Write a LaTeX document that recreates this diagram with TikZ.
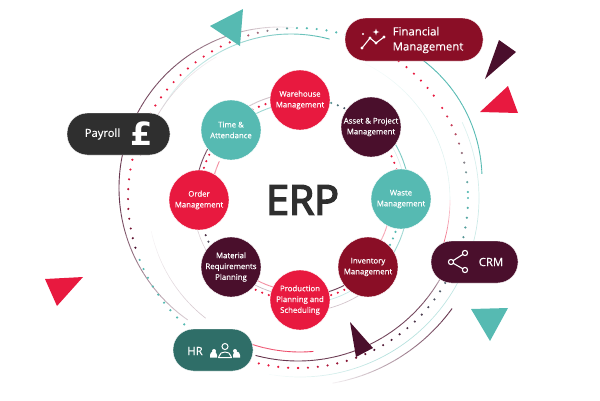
\documentclass[tikz,border=0pt]{standalone}
\usepackage{fontspec}
\setmainfont[FakeBold=0.35]{Open Sans}
\newfontfamily\erpfont[FakeBold=4]{Open Sans}
\newfontfamily\poundfont{DejaVu Sans}
\definecolor{erpred}{HTML}{E8193F}
\definecolor{erpteal}{HTML}{56BAB2}
\definecolor{erpplum}{HTML}{4A0F2C}
\definecolor{erpwine}{HTML}{8A0E26}
\definecolor{erpcoal}{HTML}{2F2F2F}
\definecolor{erppine}{HTML}{2F6E68}
\tikzset{
    module/.style={circle, draw=white, line width=0.4pt, minimum size=60pt, inner sep=0pt, text=white, align=center, font=\fontsize{7.8}{10.8}\selectfont},
    pill/.style={draw=white, line width=0.4pt, rounded corners=20.5pt, text=white},
    pilltext/.style={text=white, inner sep=0pt, align=left},
    icon/.style={draw=white, line width=1.1pt, line cap=round, line join=round},
}
% arc that fades: \fadearc{cx}{cy}{r}{start}{end}{colour}{% at start}{% at end}{width}
\newcommand{\fadearc}[9]{
    \foreach \k in {1,...,24} {
        \pgfmathsetmacro{\angA}{#4+(#5-#4)*(\k-1)/24}
        \pgfmathsetmacro{\pct}{#7+(#8-#7)*(\k-0.5)/24}
        \draw[draw=#6!\pct!white, line width=#9pt] ({#1+#3*cos(\angA)},{#2+#3*sin(\angA)}) arc[start angle=\angA, delta angle={(#5-#4)/24}, radius=#3];
    }
}
% dots along a circle, colour runs from one to another
\newcommand{\dotrun}[8]{
    \foreach \ang in {#4,#8,...,#5} {
        \pgfmathsetmacro{\pct}{100*(\ang-#4)/(#5-#4)}
        \fill[#7!\pct!#6] ({#1+#3*cos(\ang)},{#2+#3*sin(\ang)}) circle (1.2pt);
    }
}
\begin{document}
\begin{tikzpicture}[x=1pt,y=-1pt]
    \useasboundingbox (0,0) rectangle (600,400);

    % outer rings
    \fadearc{280}{188}{161}{275}{235}{erpplum}{3}{70}{0.9}
    \fadearc{280}{188}{161}{235}{175}{erpplum}{70}{85}{0.9}
    \fadearc{280}{188}{161}{175}{125}{erpplum}{85}{20}{0.9}
    \fadearc{291}{183}{149}{210}{285}{erpteal}{10}{100}{0.9}
    \fadearc{333}{179}{149}{-53}{-2}{erpteal}{100}{100}{0.9}
    \fadearc{298}{197}{164}{105}{40}{erpplum}{85}{75}{0.9}
    \fadearc{298}{197}{164}{40}{22}{erpplum}{75}{20}{0.9}
    \fadearc{300}{198}{154}{115}{85}{erpred}{65}{85}{0.9}
    \fadearc{300}{198}{188}{36}{80}{erpplum}{90}{5}{0.9}
    \fadearc{300}{198}{179}{-25}{60}{erpteal}{20}{45}{0.7}
    \fadearc{300}{198}{179}{60}{100}{erpteal}{45}{3}{0.7}
    \fadearc{298}{200}{152}{-65}{-30}{erpteal}{3}{20}{0.6}
    \fadearc{298}{200}{152}{-30}{0}{erpteal}{20}{15}{0.6}
    \fadearc{298}{200}{152}{0}{22}{erpred}{15}{85}{0.7}
    \fadearc{298}{198}{163}{195}{240}{erpplum}{30}{5}{0.7}
    \fadearc{298}{200}{150}{128}{168}{erpplum}{25}{3}{0.6}

    % dotted outer ring
    \dotrun{298}{198}{170}{0}{60}{erpteal}{erpplum}{3.33}
    \dotrun{298}{198}{170}{63.33}{90}{erpplum}{erpred}{66.66}
    \dotrun{298}{198}{170}{90}{128}{erpred}{erpred}{93.33}
    \dotrun{298}{198}{170}{132}{160}{erpteal}{erpteal}{135.33}
    \dotrun{298}{198}{170}{163}{190}{erpplum}{erpred}{166.33}
    \dotrun{298}{198}{170}{193}{240}{erpred}{erpred}{196.33}
    \dotrun{298}{198}{170}{243}{270}{erpred}{erpteal}{246.33}
    \dotrun{298}{198}{170}{273}{290}{erpteal}{erpteal}{276.33}
    \dotrun{298}{198}{170}{303}{325}{erpred}{erpred}{306.33}
    \dotrun{298}{198}{170}{328}{358}{erpred}{erpteal}{331.33}

    % inner ring
    \dotrun{300}{199}{101}{170}{230}{erpred}{erpred}{174}
    \dotrun{300}{199}{101}{230}{260}{erpred}{erpred}{234}
    \dotrun{300}{199}{101}{280}{310}{erpteal}{erpplum}{284}
    \dotrun{300}{199}{101}{315}{345}{erpred}{erpred}{319}
    \dotrun{300}{199}{101}{15}{45}{erpteal}{erpteal}{19}
    \dotrun{300}{199}{101}{60}{80}{erpred}{erpred}{64}
    \dotrun{300}{199}{101}{100}{125}{erpred}{erpred}{104}
    \dotrun{300}{199}{101}{135}{165}{erpteal}{erpplum}{139}
    \fadearc{300}{199}{105}{190}{235}{erpplum}{75}{75}{0.9}
    \fadearc{300}{199}{106}{235}{262}{erpplum}{25}{25}{0.9}
    \fadearc{300}{199}{96}{235}{262}{erpteal}{60}{60}{0.9}
    \fadearc{300}{199}{89}{190}{205}{erpred}{50}{50}{0.9}
    \fadearc{300}{199}{110}{-45}{-15}{erpteal}{80}{80}{0.9}
    \fadearc{300}{199}{106}{-35}{-10}{erpteal}{25}{25}{0.6}
    \fadearc{300}{199}{91}{15}{35}{erpred}{40}{40}{0.9}
    \fadearc{300}{199}{108}{15}{40}{erpteal}{60}{60}{0.9}
    \fadearc{300}{199}{97}{50}{80}{erpplum}{80}{80}{0.9}
    \fadearc{300}{199}{105}{55}{85}{erpteal}{35}{35}{0.7}
    \fadearc{300}{199}{113}{50}{85}{erpplum}{25}{25}{0.7}
    \fadearc{300}{199}{92}{100}{125}{erpred}{50}{50}{0.9}
    \fadearc{300}{199}{97}{100}{125}{erpplum}{30}{30}{0.7}
    \fadearc{300}{199}{107}{140}{170}{erpplum}{20}{20}{0.6}

    % triangles
    \fill[erpteal] (210,26) -- (243,9) -- (240,46) -- cycle;
    \fill[erpplum] (499,40) -- (516,52) -- (485,79) -- cycle;
    \fill[erpred] (508,86) -- (518,113) -- (480,112) -- cycle;
    \fill[erpteal] (471,309) -- (508,308) -- (490,341) -- cycle;
    \fill[erpplum] (350,322) -- (373,348) -- (356,357) -- cycle;
    \fill[erpred] (45,279) -- (83,277) -- (57,306) -- cycle;

    % modules
    \node[module, fill=erpred] (warehouse) at (300,100) {Warehouse\\Management};
    \node[module, fill=erpplum] (asset) at (371,127) {Asset \& Project\\Management};
    \node[module, fill=erpteal] (waste) at (401,199) {Waste\\Management};
    \node[module, fill=erpwine] (inventory) at (368,267) {Inventory\\Management};
    \node[module, fill=erpred] (production) at (300,300) {Production\\Planning and\\Scheduling};
    \node[module, fill=erpplum] (material) at (231,267) {Material\\Requirements\\Planning};
    \node[module, fill=erpred] (order) at (199,200) {Order\\Management};
    \node[module, fill=erpteal] (time) at (231,130) {Time \&\\Attendance};
    \node[text=erpcoal, font=\erpfont\fontsize{41}{41}\selectfont] (erp) at (302.5,200) {ERP};

    % pills
    \draw[pill, fill=erpwine] (345,18) rectangle (483,61);
    \draw[pill, fill=erpcoal] (67,113) rectangle (170,155);
    \draw[pill, fill=erpplum] (431,241) rectangle (518,283);
    \draw[pill, fill=erppine] (173,329) rectangle (253,371);

    \node[pilltext, font=\fontsize{11.4}{15}\selectfont] (financial) at (428,40) {Financial\\Management};
    \node[pilltext, font=\fontsize{11.2}{14}\selectfont] (payroll) at (102.5,134) {Payroll};
    \node[pilltext, font=\poundfont\bfseries\fontsize{32}{32}\selectfont] (pound) at (142,134) {£};
    \node[pilltext, font=\fontsize{11.4}{15}\selectfont] (crm) at (491,262) {CRM};
    \node[pilltext, font=\fontsize{11.4}{15}\selectfont] (hr) at (195,351) {HR};

    % financial icon
    \draw[icon] (362,48) -- (370,38) -- (376,43) -- (384,37);
    \foreach \point in {(362,48),(370,38),(376,43),(384,37)} {
        \fill[white] \point circle (1.7pt);
    }
    \fill[white] (363,34) circle (1.1pt);
    \fill[white] (376,28.5) -- (376.8,31.2) -- (379.5,32) -- (376.8,32.8) -- (376,35.5) -- (375.2,32.8) -- (372.5,32) -- (375.2,31.2) -- cycle;

    % share icon
    \coordinate (sa) at (465,253);
    \coordinate (sb) at (451,262);
    \coordinate (sc) at (465,270);
    \draw[icon] (sa) -- (sb) -- (sc);
    \foreach \point in {sa,sb,sc} {
        \filldraw[draw=white, fill=erpplum, line width=1.1pt] (\point) circle (2.6pt);
    }

    % people icon
    \fill[white] (210,357.5) -- (210,355) arc[start angle=180, end angle=360, radius=3.5] -- (217,357.5) -- cycle;
    \fill[white] (233,357.5) -- (233,355) arc[start angle=180, end angle=360, radius=3.5] -- (240,357.5) -- cycle;
    \fill[white] (214,351) circle (2pt);
    \fill[white] (235,351) circle (2pt);
    \draw[draw=white, line width=1pt, fill=erppine] (225,346.5) circle (3pt);
    \draw[draw=white, line width=1pt, fill=erppine, line join=round] (218.5,357.5) -- (219.5,355.5) arc[start angle=180, end angle=360, x radius=5.5, y radius=3.5] -- (231.5,357.5) -- cycle;
\end{tikzpicture}
\end{document}
